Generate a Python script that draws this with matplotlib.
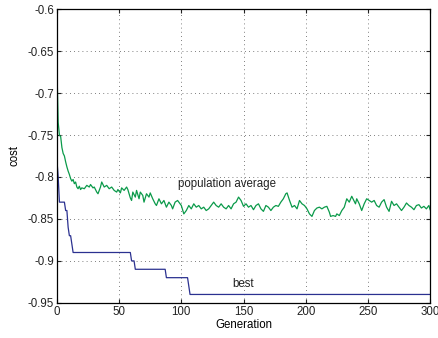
import numpy as np
import matplotlib
matplotlib.use("Agg")
import matplotlib.pyplot as plt

plt.rcParams['font.family'] = ['Liberation Sans', 'DejaVu Sans']

# population average (generation, cost)
avg_gen = [0, 1, 2, 3, 4, 5, 6, 7, 8, 9, 10, 11, 12, 13, 14, 15, 16, 17, 18, 19,
           20, 22, 24, 26, 27, 29, 30, 32, 33, 35, 36, 38, 40, 42, 44, 46, 48, 49,
           51, 52, 54, 56, 57, 59, 60, 61, 63, 64, 66, 67, 69, 70, 72, 74, 75, 77,
           79, 80, 82, 84, 86, 88, 90, 92, 93, 95, 97, 99, 100, 102, 104, 106, 108,
           110, 112, 114, 116, 118, 120, 122, 124, 126, 128, 130, 132, 134, 136,
           138, 140, 142, 144, 146, 148, 150, 152, 154, 156, 158, 160, 162, 164,
           166, 168, 170, 172, 174, 176, 178, 180, 182, 184, 185, 187, 189, 191,
           193, 195, 197, 199, 201, 203, 205, 207, 209, 211, 213, 215, 217, 219,
           220, 222, 224, 225, 227, 229, 231, 233, 235, 237, 239, 240, 241, 243,
           245, 247, 249, 251, 253, 255, 257, 259, 261, 263, 265, 267, 269, 271,
           273, 275, 277, 279, 281, 283, 285, 287, 289, 291, 293, 295, 297, 299, 300]
avg_cost = [-0.670, -0.735, -0.750, -0.752, -0.765, -0.772, -0.775, -0.782, -0.788,
            -0.793, -0.797, -0.802, -0.805, -0.803, -0.808, -0.806, -0.812, -0.814,
            -0.811, -0.815, -0.813, -0.814, -0.810, -0.812, -0.809, -0.813, -0.812,
            -0.818, -0.820, -0.812, -0.806, -0.812, -0.810, -0.814, -0.812, -0.816,
            -0.818, -0.815, -0.819, -0.813, -0.816, -0.812, -0.815, -0.825, -0.828,
            -0.818, -0.824, -0.816, -0.826, -0.818, -0.822, -0.830, -0.820, -0.824,
            -0.819, -0.826, -0.832, -0.834, -0.826, -0.832, -0.828, -0.836, -0.830,
            -0.834, -0.838, -0.830, -0.828, -0.832, -0.834, -0.844, -0.840, -0.834,
            -0.838, -0.832, -0.836, -0.834, -0.838, -0.836, -0.840, -0.838, -0.834,
            -0.830, -0.834, -0.836, -0.832, -0.836, -0.838, -0.834, -0.838, -0.832,
            -0.830, -0.824, -0.828, -0.835, -0.832, -0.836, -0.834, -0.839, -0.834,
            -0.832, -0.838, -0.841, -0.834, -0.836, -0.840, -0.836, -0.834, -0.835,
            -0.830, -0.826, -0.820, -0.819, -0.828, -0.836, -0.834, -0.838, -0.828,
            -0.832, -0.834, -0.838, -0.844, -0.847, -0.840, -0.837, -0.836, -0.838,
            -0.836, -0.835, -0.842, -0.847, -0.846, -0.847, -0.844, -0.846, -0.840,
            -0.836, -0.826, -0.830, -0.823, -0.829, -0.832, -0.826, -0.832, -0.840,
            -0.832, -0.826, -0.828, -0.830, -0.828, -0.834, -0.836, -0.830, -0.827,
            -0.836, -0.841, -0.829, -0.834, -0.832, -0.836, -0.840, -0.836, -0.831,
            -0.834, -0.836, -0.839, -0.834, -0.833, -0.837, -0.835, -0.838, -0.834,
            -0.839]

# best individual
best_gen = [0, 1, 2, 6, 7, 8, 9, 10, 11, 12, 13, 59, 60, 62, 63, 87, 88, 105, 106, 107, 300]
best_cost = [-0.78, -0.80, -0.83, -0.83, -0.84, -0.84, -0.86, -0.87, -0.87, -0.88, -0.89,
             -0.89, -0.90, -0.90, -0.91, -0.91, -0.92, -0.92, -0.93, -0.94, -0.94]

fig = plt.figure(figsize=(4.38, 3.38), dpi=100)
ax = fig.add_axes([0.130, 0.104, 0.852, 0.869])

ax.plot(avg_gen, avg_cost, color='#0b9a4a', lw=0.9)
ax.plot(best_gen, best_cost, color='#2b3190', lw=0.9)

fs = 8.3
ax.text(97, -0.808, 'population average', fontsize=fs, color='#222222', va='center')
ax.text(141, -0.927, 'best', fontsize=fs, color='#222222', va='center')

ax.set_xlim(0, 300)
ax.set_ylim(-0.95, -0.6)
ax.set_xticks(np.arange(0, 301, 50))
ax.set_yticks(np.arange(-0.95, -0.59, 0.05))
ax.set_yticklabels(['-0.95', '-0.9', '-0.85', '-0.8', '-0.75', '-0.7', '-0.65', '-0.6'])
ax.grid(True, linestyle=(0, (1, 4)), color='#555555', lw=0.6)
ax.tick_params(direction='in', top=True, right=True, length=3, labelsize=fs,
               colors='#222222', pad=2)
for s in ax.spines.values():
    s.set_linewidth(0.9)
ax.set_xlabel('Generation', fontsize=fs, labelpad=1)
ax.set_ylabel('cost', fontsize=fs, labelpad=5)

fig.savefig('out.png', dpi=100)
